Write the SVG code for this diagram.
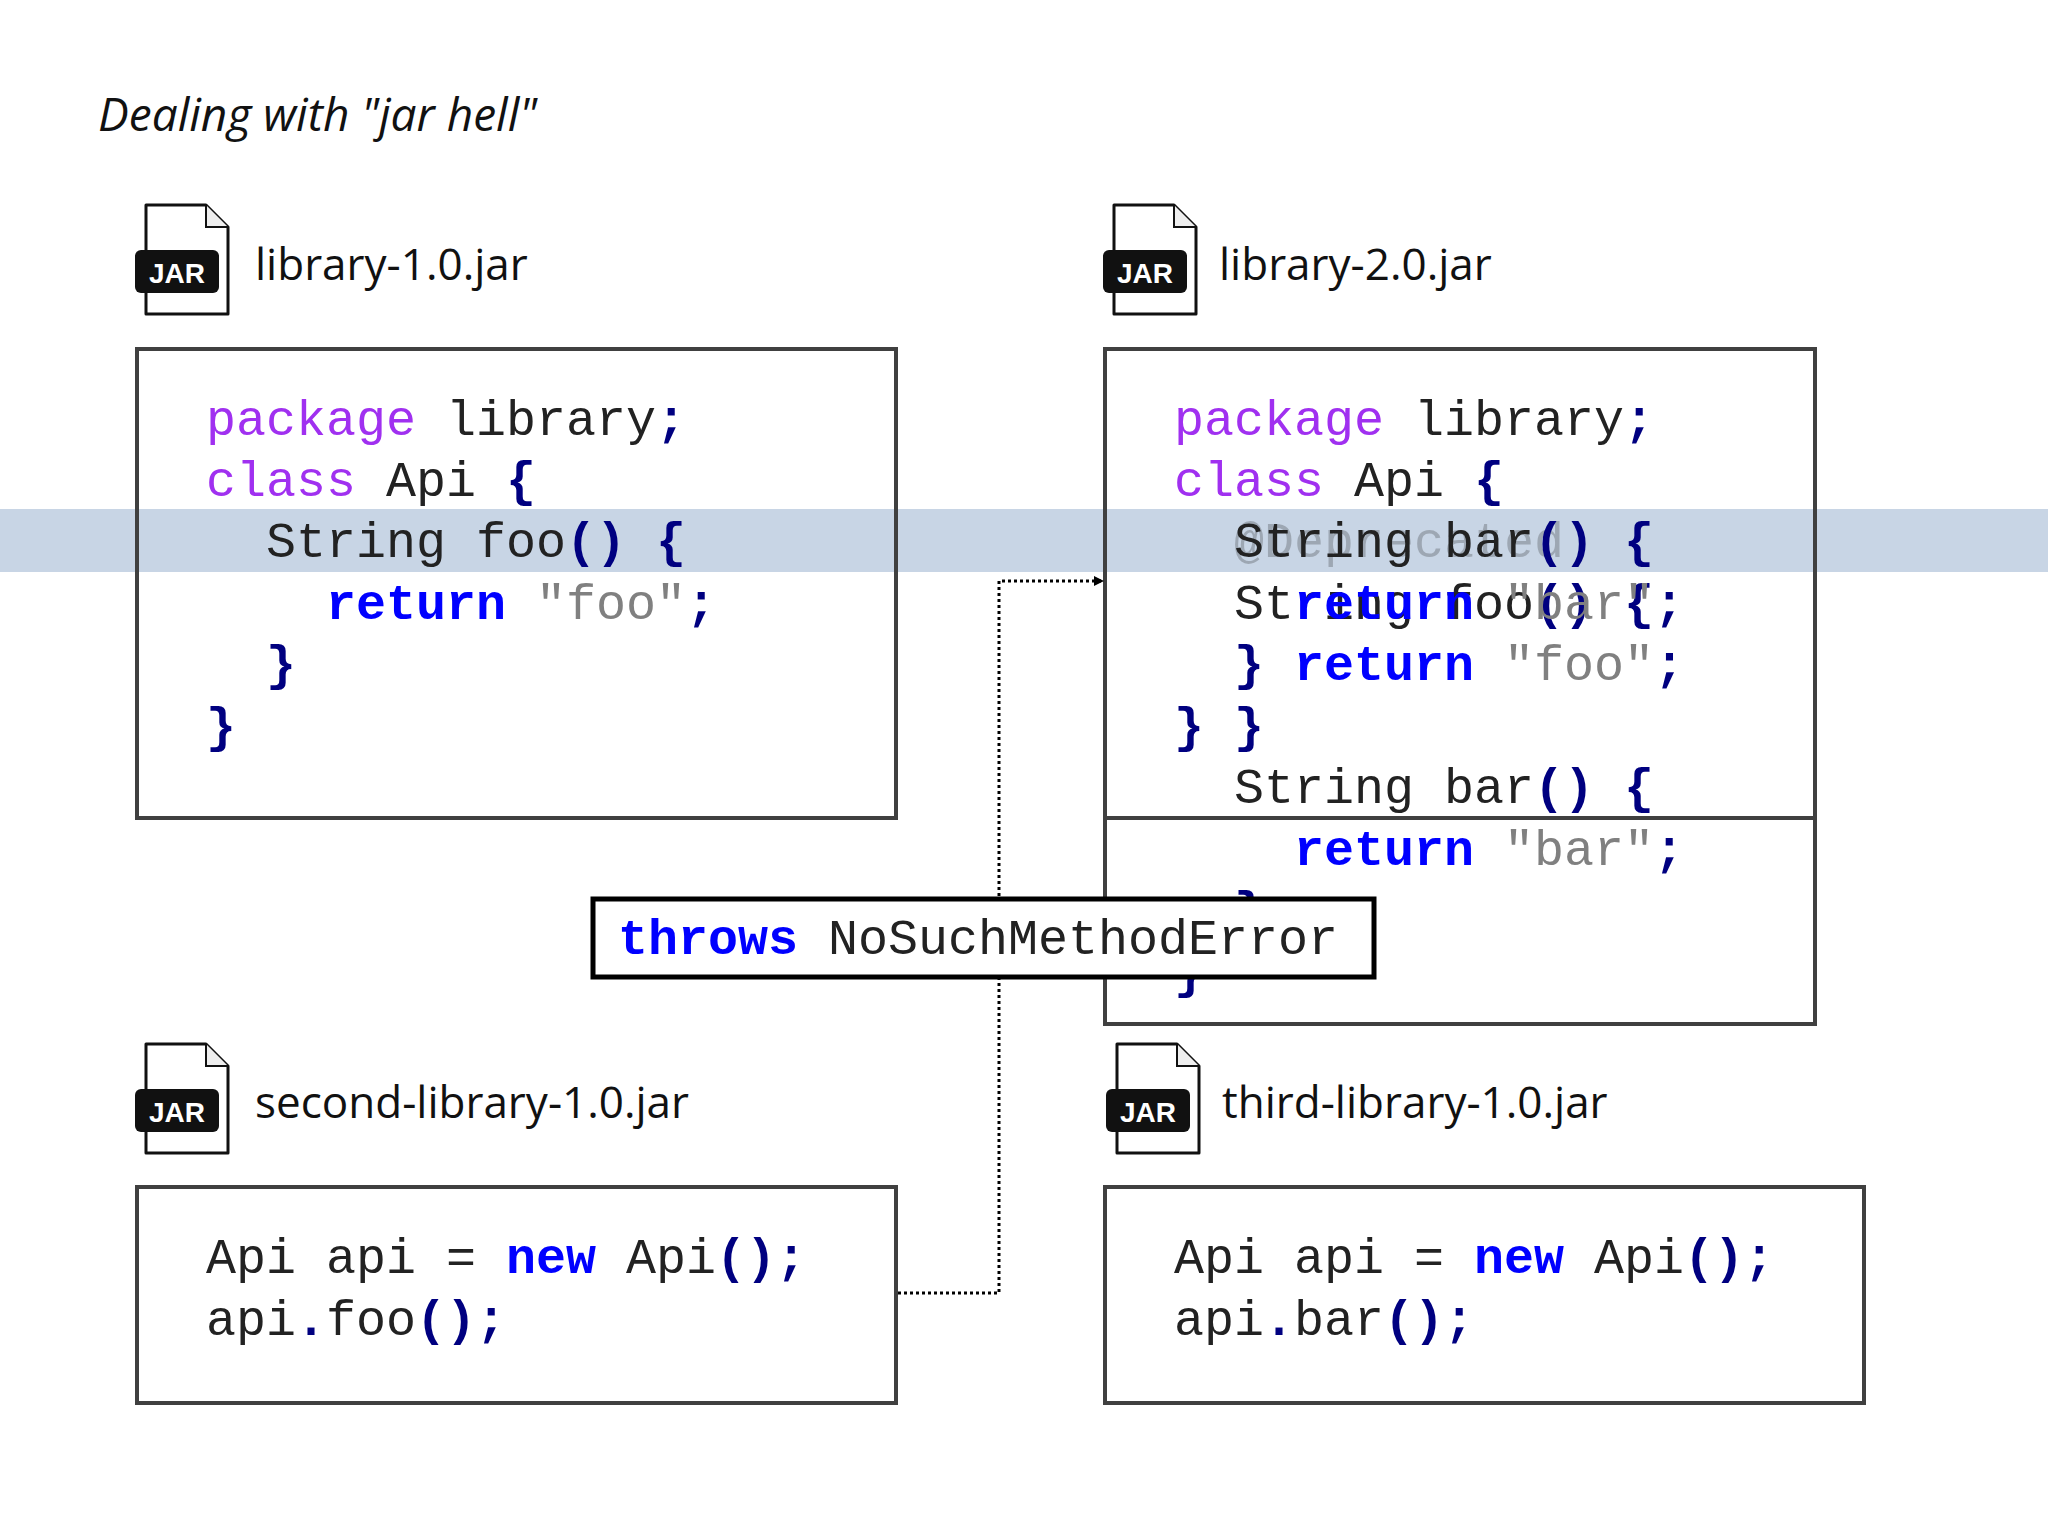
<svg xmlns="http://www.w3.org/2000/svg" width="2048" height="1536" viewBox="0 0 2048 1536">
<style>
.code{font-family:"Courier New","Liberation Mono",Cousine,monospace;font-size:50px;fill:#222;white-space:pre}
.kw{fill:#a030f0}
.b{fill:#000080;font-weight:bold}
.r{fill:#0000ff;font-weight:bold}
.s{fill:#808080}
.box{fill:none;stroke:#404040;stroke-width:4}
.lbl{font-family:"Open Sans","Noto Sans",sans-serif;font-size:44px;fill:#111}
</style>
<defs>
<symbol id="jar" viewBox="0 0 100 115" width="100" height="115">
<path d="M12 2 H72 L94 24 V111 H12 Z" fill="#fff" stroke="#111" stroke-width="3" stroke-linejoin="round"/>
<path d="M72 2 V24 H94" fill="#eee" stroke="#111" stroke-width="2"/>
<rect x="1" y="47" width="84" height="43" rx="6" fill="#111"/>
<text x="43" y="80" text-anchor="middle" font-family="Liberation Sans,Arial,sans-serif" font-weight="bold" font-size="28" fill="#fff">JAR</text>
</symbol>
<marker id="ah" markerWidth="10" markerHeight="10" refX="9" refY="5" orient="auto" markerUnits="userSpaceOnUse"><path d="M0 0 L10 5 L0 10 Z" fill="#000"/></marker>
</defs>
<rect width="2048" height="1536" fill="#fff"/>
<rect x="0" y="509" width="2048" height="63" fill="#c8d5e5"/>
<text x="98" y="131" font-family="Open Sans,Noto Sans,sans-serif" font-style="italic" font-size="46" fill="#111">Dealing with "jar hell"</text>

<g id="lib1">
<use href="#jar" x="134" y="203"/>
<text class="lbl" x="255" y="280">library-1.0.jar</text>
<rect class="box" x="137" y="349" width="759" height="469"/>
<text class="code" x="206" y="435"><tspan class="kw">package</tspan> library<tspan class="b">;</tspan></text>
<text class="code" x="206" y="496"><tspan class="kw">class</tspan> Api <tspan class="b">{</tspan></text>
<text class="code" x="206" y="557">  String foo<tspan class="b">()</tspan> <tspan class="b">{</tspan></text>
<text class="code" x="206" y="619">    <tspan class="r">return</tspan> <tspan class="s">"foo"</tspan><tspan class="b">;</tspan></text>
<text class="code" x="206" y="680">  <tspan class="b">}</tspan></text>
<text class="code" x="206" y="742"><tspan class="b">}</tspan></text>
</g>

<g id="lib2">
<use href="#jar" x="1102" y="203"/>
<text class="lbl" x="1219" y="280">library-2.0.jar</text>
<rect class="box" x="1105" y="349" width="710" height="675"/>
<line x1="1105" y1="818" x2="1815" y2="818" stroke="#404040" stroke-width="4"/>
<text class="code" x="1174" y="435"><tspan class="kw">package</tspan> library<tspan class="b">;</tspan></text>
<text class="code" x="1174" y="496"><tspan class="kw">class</tspan> Api <tspan class="b">{</tspan></text>
<text class="code" x="1174" y="557" opacity="0.25">  @Deprecated</text>
<text class="code" x="1174" y="557">  String bar<tspan class="b">()</tspan> <tspan class="b">{</tspan></text>
<text class="code" x="1174" y="619">  String foo<tspan class="b">()</tspan> <tspan class="b">{</tspan></text>
<text class="code" x="1174" y="619">    <tspan class="r">return</tspan> <tspan class="s">"bar"</tspan><tspan class="b">;</tspan></text>
<text class="code" x="1174" y="680">  <tspan class="b">}</tspan> <tspan class="r">return</tspan> <tspan class="s">"foo"</tspan><tspan class="b">;</tspan></text>
<text class="code" x="1174" y="742"><tspan class="b">}</tspan> <tspan class="b">}</tspan></text>
<text class="code" x="1174" y="803">  String bar<tspan class="b">()</tspan> <tspan class="b">{</tspan></text>
<text class="code" x="1174" y="865">    <tspan class="r">return</tspan> <tspan class="s">"bar"</tspan><tspan class="b">;</tspan></text>
<text class="code" x="1174" y="926">  <tspan class="b">}</tspan></text>
<text class="code" x="1174" y="988"><tspan class="b">}</tspan></text>
</g>

<g id="lib3">
<use href="#jar" x="134" y="1042"/>
<text class="lbl" x="255" y="1118">second-library-1.0.jar</text>
<rect class="box" x="137" y="1187" width="759" height="216"/>
<text class="code" x="206" y="1273">Api api = <tspan class="r">new</tspan> Api<tspan class="b">();</tspan></text>
<text class="code" x="206" y="1335">api<tspan class="b">.</tspan>foo<tspan class="b">();</tspan></text>
</g>

<g id="lib4">
<use href="#jar" x="1105" y="1042"/>
<text class="lbl" x="1222" y="1118">third-library-1.0.jar</text>
<rect class="box" x="1105" y="1187" width="759" height="216"/>
<text class="code" x="1174" y="1273">Api api = <tspan class="r">new</tspan> Api<tspan class="b">();</tspan></text>
<text class="code" x="1174" y="1335">api<tspan class="b">.</tspan>bar<tspan class="b">();</tspan></text>
</g>

<g id="connectors">
<path d="M898 1293 H999 V581 H1103" fill="none" stroke="#000" stroke-width="3" stroke-dasharray="3 3" marker-end="url(#ah)"/>
</g>

<g id="throws">
<rect x="593" y="899" width="781" height="78" fill="#fff" stroke="#000" stroke-width="5"/>
<text class="code" x="618" y="954"><tspan class="r">throws</tspan> NoSuchMethodError</text>
</g>
</svg>
